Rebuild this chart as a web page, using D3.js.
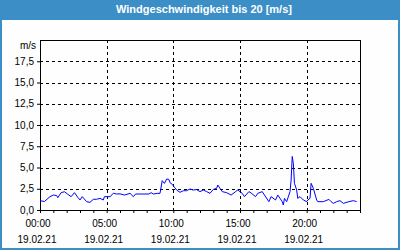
<!DOCTYPE html>
<html><head><meta charset="utf-8">
<script src="https://cdn.jsdelivr.net/npm/d3@7"></script>
<style>
html,body{margin:0;padding:0;background:#fff;}
svg{display:block;font-family:"Liberation Sans",Arial,sans-serif;}
</style></head>
<body>
<svg id="c" width="400" height="250"></svg>
<script>
const title = "Windgeschwindigkeit bis 20 [m/s]";
const unitLabel = "m/s";
const dateLabel = "19.02.21";
const yTicks = [0, 2.5, 5, 7.5, 10, 12.5, 15, 17.5];
const xTickHours = [0, 5, 10, 15, 20];
const times = ["00:00","00:20","00:45","01:00","01:15","01:20","01:35","01:50","02:05","02:20","02:35","02:50","03:00","03:10","03:30","03:45","04:00","04:15","04:30","04:45","04:50","05:15","05:30","05:45","06:00","06:20","06:45","07:00","07:10","07:40","08:10","08:20","08:30","08:50","09:00","09:10","09:20","09:30","09:40","09:45","09:55","10:05","10:15","10:30","10:45","11:00","11:15","11:30","11:45","12:00","12:15","12:30","12:45","13:00","13:15","13:20","13:40","14:00","14:20","14:40","14:50","15:10","15:20","15:40","15:50","16:10","16:20","16:40","16:50","17:10","17:20","17:40","17:50","18:10","18:15","18:20","18:30","18:40","18:45","18:50","18:55","19:00","19:05","19:15","19:20","19:30","19:45","20:00","20:05","20:15","20:20","20:30","20:45","20:50","21:15","21:40","21:50","22:00","22:15","22:30","22:45","23:10","23:30","23:45"];
const speeds = [1.1,1.0,1.57,1.76,1.7,1.45,2.04,2.15,1.85,1.57,2.04,1.49,1.18,1.57,0.98,0.9,1.26,1.26,1.37,1.18,1.57,1.57,1.96,1.88,1.9,1.76,1.96,1.57,1.88,1.88,1.88,2.04,1.88,1.96,1.96,3.45,3.13,3.65,3.6,3.22,3.02,2.67,2.35,2.08,2.27,2.27,2.47,2.35,2.4,2.16,2.35,2.16,1.96,2.43,2.55,2.94,2.16,2.04,1.76,2.16,2.35,1.96,1.57,2.16,2.0,1.57,1.96,2.16,1.76,0.98,1.57,1.18,1.76,0.98,0.59,1.37,0.98,1.76,2.16,3.53,6.3,5.49,3.14,2.35,1.37,1.57,1.18,0.98,1.18,1.37,3.14,2.55,1.18,0.98,0.98,1.25,0.98,0.78,0.98,1.1,0.78,0.98,1.1,0.98];

const W = 400, H = 250;
const m = {l: 40, r: 360, t: 40, b: 210};
const svg = d3.select("#c");

// frame
svg.append("rect").attr("x",0).attr("y",0).attr("width",W).attr("height",H).attr("fill","#3b8fc6");
svg.append("rect").attr("x",2).attr("y",20).attr("width",W-4).attr("height",H-22).attr("fill","#fdfefd");
svg.append("text").attr("x",204).attr("y",13).attr("text-anchor","middle")
  .attr("fill","#fff").attr("font-weight","bold").attr("font-size","11px").text(title);

const hour = s => { const [h, mm] = s.split(":").map(Number); return h + mm/60; };
const x = d3.scaleLinear().domain([0,24]).range([m.l, m.r]);
const y = d3.scaleLinear().domain([0,20]).range([m.b, m.t]);

// grid
const g = svg.append("g");
g.selectAll("line.h").data(yTicks.filter(v=>v>0)).join("line")
  .attr("x1",m.l).attr("x2",m.r).attr("y1",d=>Math.round(y(d))+0.5).attr("y2",d=>Math.round(y(d))+0.5)
  .attr("stroke","#000").attr("stroke-dasharray","3,3");
g.selectAll("line.v").data(xTickHours.filter(v=>v>0)).join("line")
  .attr("y1",m.t).attr("y2",m.b).attr("x1",d=>Math.round(x(d))+0.5).attr("x2",d=>Math.round(x(d))+0.5)
  .attr("stroke","#000").attr("stroke-dasharray","3,3");

// axes
const xAxis = d3.axisBottom(x).tickValues(d3.range(0,25)).tickSize(3).tickFormat("");
const ax = svg.append("g").attr("transform",`translate(0,${m.b})`).call(xAxis);
ax.select(".domain").remove();
ax.selectAll("line").attr("stroke","#000");
const yAxis = d3.axisLeft(y).tickValues(yTicks).tickSize(3)
  .tickFormat(d => d3.format(".1f")(d).replace(".",","));
const ay = svg.append("g").attr("transform",`translate(${m.l},0)`).call(yAxis);
ay.select(".domain").remove();
ay.selectAll("text").attr("font-size","10px").attr("font-family","Liberation Sans, Arial, sans-serif").attr("fill","#000");
ay.selectAll("line").attr("stroke","#000");
svg.append("text").attr("x",36).attr("y",49).attr("text-anchor","end").attr("font-size","10px").text(unitLabel);

// x labels
const xl = svg.append("g").selectAll("g").data(xTickHours).join("g");
xl.append("text").attr("x",d=>x(d)-2).attr("y",227).attr("text-anchor","middle").attr("font-size","10px")
  .text(d => String(d).padStart(2,"0")+":00");
xl.append("text").attr("x",d=>x(d)-3).attr("y",243).attr("text-anchor","middle").attr("font-size","10px")
  .text(dateLabel);

// border
svg.append("rect").attr("x",m.l+0.5).attr("y",m.t+0.5).attr("width",m.r-m.l).attr("height",m.b-m.t)
  .attr("fill","none").attr("stroke","#000");

// data line
const data = times.map((t,i)=>({h: hour(t), v: speeds[i]}));
svg.append("path").datum(data)
  .attr("fill","none").attr("stroke","#0000ff").attr("stroke-width",1)
  .attr("d", d3.line().x(d=>x(d.h)).y(d=>y(d.v)));
</script>
</body></html>
